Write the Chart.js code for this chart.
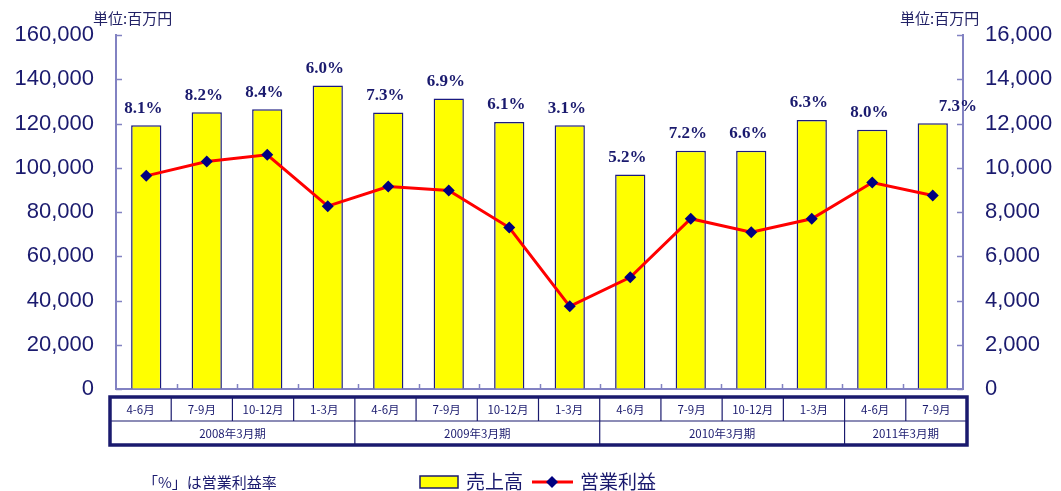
<!DOCTYPE html>
<html>
<head>
<meta charset="utf-8">
<script src="https://cdn.jsdelivr.net/npm/chart.js@4/dist/chart.umd.min.js"></script>
<style>
  body { margin: 0; background: #fff; }
  #wrap { position: relative; width: 1061px; height: 491px; }
</style>
</head>
<body>
<div id="wrap"><canvas id="chart"></canvas></div>
<script>
// ===============================
// DATA
// ===============================
const quarters = ["4-6月", "7-9月", "10-12月", "1-3月", "4-6月", "7-9月", "10-12月", "1-3月",
                  "4-6月", "7-9月", "10-12月", "1-3月", "4-6月", "7-9月"];
const fiscalYears = ["2008年3月期", "2009年3月期", "2010年3月期", "2011年3月期"];
const yearSpans = [4, 4, 4, 2];
const sales = [119300, 125100, 126500, 137300, 125000, 131400, 120700, 119300,
               97000, 107700, 107700, 121700, 117200, 120200];
const operatingProfit = [9640, 10290, 10590, 8270, 9160, 8980, 7300, 3740,
                         5050, 7700, 7090, 7700, 9340, 8750];
const marginLabels = ["8.1%", "8.2%", "8.4%", "6.0%", "7.3%", "6.9%", "6.1%", "3.1%",
                      "5.2%", "7.2%", "6.6%", "6.3%", "8.0%", "7.3%"];
const leftTicks = [0, 20000, 40000, 60000, 80000, 100000, 120000, 140000, 160000];
const rightTicks = [0, 2000, 4000, 6000, 8000, 10000, 12000, 14000, 16000];

// ===============================
// STYLE
// ===============================
const NAVY = "#1a1a6e";
const AXIS = "#8282c2";
const JP = "'Noto Sans CJK JP', sans-serif";
const NUM = "'Liberation Sans', Arial, sans-serif";

// ===============================
// EXTRAS: inner ticks, % labels, table, legend
// ===============================
const extras = {
  id: "extras",
  afterDraw(chart) {
    const ctx = chart.ctx;
    const area = chart.chartArea;
    const xs = chart.scales.x;
    const yl = chart.scales.y;
    const yr = chart.scales.y1;
    ctx.save();

    // inward tick marks
    ctx.strokeStyle = AXIS;
    ctx.lineWidth = 1.5;
    leftTicks.forEach(v => {
      const y = Math.round(yl.getPixelForValue(v)) + 0.5;
      ctx.beginPath(); ctx.moveTo(area.left, y); ctx.lineTo(area.left + 6, y); ctx.stroke();
    });
    rightTicks.forEach(v => {
      const y = Math.round(yr.getPixelForValue(v)) + 0.5;
      ctx.beginPath(); ctx.moveTo(area.right, y); ctx.lineTo(area.right - 6, y); ctx.stroke();
    });
    for (let i = 0; i < quarters.length - 1; i++) {
      const x = Math.round((xs.getPixelForValue(i) + xs.getPixelForValue(i + 1)) / 2) + 0.5;
      ctx.beginPath(); ctx.moveTo(x, area.bottom); ctx.lineTo(x, area.bottom - 5); ctx.stroke();
    }

    // margin labels above bars
    const bars = chart.getDatasetMeta(0).data;
    ctx.fillStyle = NAVY;
    ctx.font = "bold 17px 'Liberation Serif', 'Times New Roman', serif";
    ctx.textAlign = "center";
    ctx.textBaseline = "middle";
    bars.forEach((b, i) => {
      const dx = i === bars.length - 1 ? 25 : -3;
      ctx.fillText(marginLabels[i], b.x + dx, b.y - 17);
    });

    // period table
    const colW = (area.right - area.left + 10) / quarters.length;
    const tl = area.left - 6, tt = 397, rowH = 24;
    const tw = colW * quarters.length, th = rowH * 2;
    ctx.strokeStyle = NAVY;
    ctx.lineWidth = 1.2;
    ctx.beginPath(); ctx.moveTo(tl, tt + rowH); ctx.lineTo(tl + tw, tt + rowH); ctx.stroke();
    ctx.font = "11.5px " + JP;
    quarters.forEach((q, i) => {
      const x0 = tl + colW * i;
      if (i > 0) {
        ctx.beginPath(); ctx.moveTo(x0, tt); ctx.lineTo(x0, tt + rowH); ctx.stroke();
      }
      ctx.fillText(q, x0 + colW / 2, tt + rowH / 2 + 1);
    });
    let c = 0;
    fiscalYears.forEach((fy, i) => {
      const x0 = tl + colW * c;
      if (i > 0) {
        ctx.beginPath(); ctx.moveTo(x0, tt + rowH); ctx.lineTo(x0, tt + th); ctx.stroke();
      }
      ctx.fillText(fy, x0 + colW * yearSpans[i] / 2, tt + rowH * 1.5 + 1);
      c += yearSpans[i];
    });
    ctx.lineWidth = 3.5;
    ctx.strokeRect(tl, tt, tw, th);

    // unit captions
    ctx.font = "15px " + JP;
    ctx.fillStyle = "#222266";
    ctx.textAlign = "left";
    ctx.fillText("単位:百万円", 93, 18);
    ctx.fillText("単位:百万円", 900, 18);

    // note + legend
    ctx.fillStyle = NAVY;
    ctx.font = "15px " + JP;
    ctx.fillText("「%」は営業利益率", 143, 482);
    ctx.fillStyle = "#ffff00";
    ctx.fillRect(420, 476, 38, 12);
    ctx.strokeStyle = NAVY;
    ctx.lineWidth = 1.5;
    ctx.strokeRect(420, 476, 38, 12);
    ctx.fillStyle = NAVY;
    ctx.font = "19px " + JP;
    ctx.fillText("売上高", 466, 482);
    ctx.strokeStyle = "#ff0000";
    ctx.lineWidth = 3;
    ctx.beginPath(); ctx.moveTo(532, 482); ctx.lineTo(573, 482); ctx.stroke();
    ctx.fillStyle = "#000080";
    ctx.beginPath();
    ctx.moveTo(552, 476); ctx.lineTo(558, 482); ctx.lineTo(552, 488); ctx.lineTo(546, 482);
    ctx.closePath(); ctx.fill();
    ctx.fillStyle = NAVY;
    ctx.fillText("営業利益", 580, 482);

    ctx.restore();
  }
};

// ===============================
// CHART
// ===============================
new Chart(document.getElementById("chart"), {
  data: {
    labels: quarters,
    datasets: [
      {
        type: "bar",
        label: "売上高",
        data: sales,
        yAxisID: "y",
        backgroundColor: "#ffff00",
        borderColor: "#1a1a80",
        borderWidth: 1.5,
        categoryPercentage: 1,
        barPercentage: 0.5,
        order: 2
      },
      {
        type: "line",
        label: "営業利益",
        data: operatingProfit,
        yAxisID: "y1",
        borderColor: "#ff0000",
        borderWidth: 3,
        pointStyle: "rectRot",
        pointRadius: 6,
        pointBackgroundColor: "#000080",
        pointBorderColor: "#000080",
        pointBorderWidth: 0,
        tension: 0,
        order: 1
      }
    ]
  },
  options: {
    responsive: true,
    maintainAspectRatio: false,
    animation: false,
    layout: { padding: { top: 27, bottom: 102, left: 0, right: 0 } },
    plugins: { legend: { display: false }, tooltip: { enabled: false } },
    scales: {
      x: {
        grid: { display: false },
        border: { color: AXIS, width: 2 },
        ticks: { display: false },
        afterFit: s => { s.height = 0; }
      },
      y: {
        position: "left",
        min: 0, max: 160000,
        afterBuildTicks: s => { s.ticks = leftTicks.map(v => ({ value: v })); },
        grid: { drawOnChartArea: false, drawTicks: false },
        border: { color: AXIS, width: 2 },
        ticks: {
          color: NAVY, padding: 22,
          font: { family: NUM, size: 22 },
          callback: v => v.toLocaleString("en-US")
        },
        afterFit: s => { s.width = 116; }
      },
      y1: {
        position: "right",
        min: 0, max: 16000,
        afterBuildTicks: s => { s.ticks = rightTicks.map(v => ({ value: v })); },
        grid: { drawOnChartArea: false, drawTicks: false },
        border: { color: AXIS, width: 2 },
        ticks: {
          color: NAVY, padding: 22,
          font: { family: NUM, size: 22 },
          callback: v => v.toLocaleString("en-US")
        },
        afterFit: s => { s.width = 98; }
      }
    }
  },
  plugins: [extras]
});
</script>
</body>
</html>
